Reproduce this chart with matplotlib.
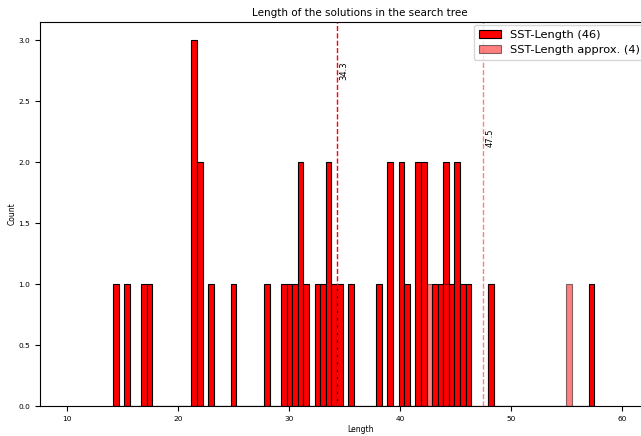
import numpy as np
import matplotlib
matplotlib.use('Agg')
import matplotlib.pyplot as plt

# Solution lengths (one entry per solution)
sst_lengths = [14.3, 15.3, 16.8, 17.3,
               21.3, 21.4, 21.5, 21.8, 22.0,
               22.9, 24.9, 27.9,
               29.4, 30.0, 30.5, 30.9, 31.1, 31.5,
               32.5, 33.0, 33.4, 33.6, 34.0, 34.5,
               35.5, 38.0,
               39.0, 39.2, 40.0, 40.2, 40.6,
               41.5, 41.7, 42.0, 42.2,
               43.1, 43.6, 44.0, 44.2, 44.6,
               45.0, 45.2, 45.6, 46.1,
               48.1, 57.2]
sst_approx = [42.6, 44.2, 48.0, 55.2]

bins = np.linspace(14.15, 57.494, 87)

fig = plt.figure(figsize=(6.41, 4.36), dpi=100)
# axes run past the right edge of the picture, as in the reference
ax = fig.add_axes([40 / 641, 30 / 436, 640 / 641, 384 / 436])

ax.hist(sst_lengths, bins=bins, color='red', edgecolor='black', linewidth=0.8,
        label=f'SST-Length ({len(sst_lengths)})')
ax.hist(sst_approx, bins=bins, color='red', edgecolor='black', linewidth=0.8, alpha=0.5,
        label=f'SST-Length approx. ({len(sst_approx)})')

m1 = np.mean(sst_lengths)
m2 = np.mean(sst_approx)
ax.axvline(m1, color='red', linestyle='--', linewidth=1)
ax.axvline(m2, color='red', linestyle='--', linewidth=1, alpha=0.5)
ax.text(m1 + 0.2, 2.75, f'{m1:.1f}', rotation=90, va='center', ha='left', fontsize=6)
ax.text(m2 + 0.2, 2.2, f'{m2:.1f}', rotation=90, va='center', ha='left', fontsize=6)

ax.set_xlim(7.57, 65.2)
ax.set_ylim(0, 3.15)
ax.tick_params(labelsize=5.3)
ax.set_xlabel('Length', fontsize=5.5, labelpad=2)
ax.set_ylabel('Count', fontsize=5.5, labelpad=1)
ax.set_title('Length of the solutions in the search tree', fontsize=7.5, pad=4)

ax.legend(loc='upper left', bbox_to_anchor=(474 / 641, 1 - 25 / 436),
          bbox_transform=fig.transFigure, borderaxespad=0, fontsize=8.2)

fig.savefig('out.png', dpi=100)
